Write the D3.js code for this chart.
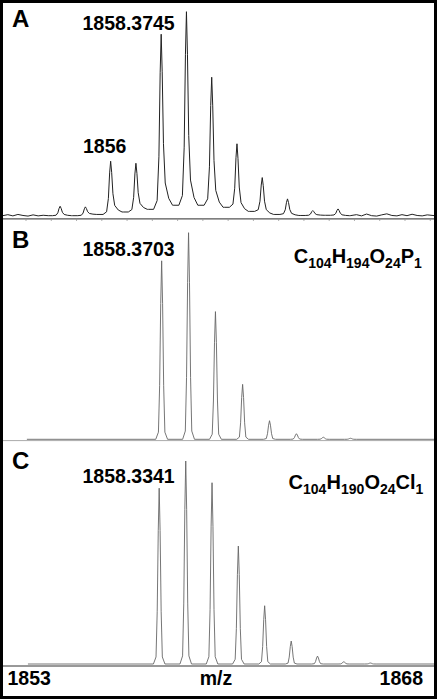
<!DOCTYPE html>
<html>
<head>
<meta charset="utf-8">
<script src="https://cdn.jsdelivr.net/npm/d3@7/dist/d3.min.js"></script>
<style>
body { margin: 0; background: #fff; }
text { font-family: "Liberation Sans", Arial, sans-serif; font-weight: bold; fill: #000; }
</style>
</head>
<body>
<div id="chart"></div>
<script>
// Chart data
var mzMin = 1853, mzMax = 1868;
var axisLabels = ["1853", "m/z", "1868"];
var panelLetters = ["A", "B", "C"];
var peakLabels = ["1858.3745", "1858.3703", "1858.3341"];
var lowLabel = "1856";

// A: measured spectrum (relative intensity, %)
var obsPeakMz = [1854.37, 1855.37, 1856.37, 1857.37, 1858.37, 1859.37, 1860.37, 1861.37, 1862.37, 1863.37, 1864.37, 1865.37];
var obsPeakInt = [5.0, 4.7, 27, 26, 89, 100, 68, 35.5, 19, 8.6, 2.9, 3.7];
var obsBaseMz = [1852.1, 1852.3, 1852.5, 1852.7, 1852.9, 1853.1, 1853.3, 1853.5, 1853.7, 1853.9,
    1854.87, 1855.87, 1856.87, 1857.87, 1858.87, 1859.87, 1860.87, 1861.87, 1862.87, 1863.87, 1864.87,
    1865.85, 1866.1, 1866.3, 1866.5, 1866.7, 1866.9, 1867.1, 1867.3, 1867.5, 1867.7, 1867.9,
    1868.1, 1868.3, 1868.5, 1868.7, 1868.9, 1869.2];
var obsBaseInt = [0.4, 0.9, 0.3, 1.0, 0.5, 0.2, 0.8, 0.3, 0.6, 0.4,
    0.4, 1.0, 2.2, 3.5, 5.5, 5.5, 4.5, 2.5, 1.0, 0.5, 0.6,
    0.4, 0.9, 0.3, 1.2, 0.4, 0.2, 0.8, 1.3, 0.5, 0.3, 0.9,
    0.4, 1.1, 0.5, 0.3, 0.8, 0.4];

// B: simulated C104H194O24P1
var simPMz = [1858.37, 1859.37, 1860.37, 1861.38, 1862.38, 1863.38, 1864.38, 1865.39];
var simPInt = [86.4, 100, 61.8, 26.6, 9.0, 2.7, 1.0, 0.5];
var simPRange = [1853.36, 1869.2];

// C: simulated C104H190O24Cl1
var simClMz = [1858.33, 1859.34, 1860.34, 1861.34, 1862.34, 1863.35, 1864.35, 1865.35, 1866.36];
var simClInt = [86.6, 100, 89.3, 58.1, 28.7, 11.3, 3.9, 1.1, 0.5];
var simClRange = [1853.34, 1869.2];

// Layout
var svgWidth = 437, svgHeight = 699;
var inner = {left: 3, right: 434, top: 3, bottom: 696};

var panels = [
    {x0: 25.5, x1: 404.5, base: 216.5, top: 11.7, stroke: "#222", width: 1},
    {x0: 17.2, x1: 420.7, base: 439.3, top: 232.7, stroke: "#666", width: 0.9},
    {x0: 19.0, x1: 413.5, base: 664, top: 461, stroke: "#666", width: 0.9}
];

var obsShape = {
    left: [[-0.3, 0], [-0.16, 0.05], [-0.09, 0.3], [-0.04, 0.78]],
    right: [[0.04, 0.78], [0.09, 0.36], [0.16, 0.13], [0.3, 0.04], [0.45, 0]]
};
var simShape = {
    left: [[-0.22, 0], [-0.12, 0.04], [-0.075, 0.3], [-0.035, 0.76]],
    right: [[0.035, 0.76], [0.075, 0.3], [0.12, 0.04], [0.22, 0]]
};

var svg = d3.select("#chart")
    .append("svg")
    .attr("width", svgWidth)
    .attr("height", svgHeight);

svg.append("rect")
    .attr("width", svgWidth)
    .attr("height", svgHeight)
    .attr("fill", "#fff");

svg.append("clipPath")
    .attr("id", "inner")
    .append("rect")
    .attr("x", inner.left)
    .attr("y", inner.top)
    .attr("width", inner.right - inner.left)
    .attr("height", inner.bottom - inner.top);

function buildPoints(peakMz, peakInt, baseMz, baseInt, shape) {
    var pts = baseMz.map(function(m, i) { return [m, baseInt[i]]; });
    var bis = d3.bisector(function(d) { return d; }).left;
    peakMz.forEach(function(mz, i) {
        var h = peakInt[i];
        var j = bis(baseMz, mz);
        var footL = baseInt[Math.max(0, j - 1)];
        var footR = baseInt[Math.min(baseMz.length - 1, j)];
        shape.left.forEach(function(s) { pts.push([mz + s[0], footL + s[1] * (h - footL)]); });
        pts.push([mz, h]);
        shape.right.forEach(function(s) { pts.push([mz + s[0], footR + s[1] * (h - footR)]); });
    });
    pts.sort(function(a, b) { return a[0] - b[0]; });
    return pts;
}

var series = [
    buildPoints(obsPeakMz, obsPeakInt, obsBaseMz, obsBaseInt, obsShape),
    buildPoints(simPMz, simPInt, simPRange, [0, 0], simShape),
    buildPoints(simClMz, simClInt, simClRange, [0, 0], simShape)
];

var plot = svg.append("g").attr("clip-path", "url(#inner)");

// panel A axis with small ticks
var xA = d3.scaleLinear().domain([mzMin, mzMax]).range([panels[0].x0, panels[0].x1]);
plot.append("line")
    .attr("x1", inner.left).attr("x2", inner.right)
    .attr("y1", 218.8).attr("y2", 218.8)
    .attr("stroke", "#555").attr("stroke-width", 1.2);
var axA = plot.append("g")
    .attr("transform", "translate(0,218.8)")
    .call(d3.axisBottom(xA).tickValues(d3.range(mzMin, mzMax + 2)).tickSize(2).tickFormat(""));
axA.select(".domain").remove();
axA.selectAll("line").attr("stroke", "#999");

// separator between B and C
plot.append("line")
    .attr("x1", inner.left).attr("x2", inner.right)
    .attr("y1", 440.6).attr("y2", 440.6)
    .attr("stroke", "#aaa").attr("stroke-width", 1);

// bottom axis line
plot.append("line")
    .attr("x1", inner.left).attr("x2", inner.right)
    .attr("y1", 666).attr("y2", 666)
    .attr("stroke", "#333").attr("stroke-width", 1);

panels.forEach(function(p, i) {
    var x = d3.scaleLinear().domain([mzMin, mzMax]).range([p.x0, p.x1]);
    var y = d3.scaleLinear().domain([0, 100]).range([p.base, p.top]);
    var line = d3.line()
        .x(function(d) { return x(d[0]); })
        .y(function(d) { return y(d[1]); });
    plot.append("path")
        .datum(series[i])
        .attr("d", line)
        .attr("fill", "none")
        .attr("stroke", p.stroke)
        .attr("stroke-width", p.width)
        .attr("stroke-linejoin", "round");
});

// outer frame
svg.append("rect")
    .attr("x", 1.5).attr("y", 1.5)
    .attr("width", svgWidth - 3).attr("height", svgHeight - 3)
    .attr("fill", "none")
    .attr("stroke", "#000")
    .attr("stroke-width", 3);

// panel letters
var letterY = [27, 247.7, 469.3];
panelLetters.forEach(function(t, i) {
    svg.append("text")
        .attr("x", 12)
        .attr("y", letterY[i])
        .attr("font-size", "24px")
        .text(t);
});

// peak labels
var labelY = [30, 256, 483.3];
peakLabels.forEach(function(t, i) {
    svg.append("text")
        .attr("x", 82.5)
        .attr("y", labelY[i])
        .attr("font-size", "19.5px")
        .text(t);
});
svg.append("text")
    .attr("x", 83)
    .attr("y", 152.7)
    .attr("font-size", "19.5px")
    .text(lowLabel);

// formulas
var formulas = [
    {y: 263.3, anchorX: 422, parts: [["C", "104"], ["H", "194"], ["O", "24"], ["P", "1"]]},
    {y: 489.3, anchorX: 423.5, parts: [["C", "104"], ["H", "190"], ["O", "24"], ["Cl", "1"]]}
];
formulas.forEach(function(f) {
    var t = svg.append("text")
        .attr("x", f.anchorX)
        .attr("y", f.y)
        .attr("text-anchor", "end")
        .attr("font-size", "20px");
    f.parts.forEach(function(pt) {
        t.append("tspan").attr("dy", 0).text(pt[0]);
        t.append("tspan").attr("font-size", "14px").attr("dy", 5).text(pt[1]);
        t.append("tspan").attr("font-size", "1px").attr("dy", -5).text("\u200A");
    });
});

// bottom labels
svg.append("text").attr("x", 7.5).attr("y", 685).attr("font-size", "19.5px").text(axisLabels[0]);
svg.append("text").attr("x", 216).attr("y", 685).attr("text-anchor", "middle").attr("font-size", "19.5px").text(axisLabels[1]);
svg.append("text").attr("x", 423).attr("y", 685).attr("text-anchor", "end").attr("font-size", "19.5px").text(axisLabels[2]);
</script>
</body>
</html>
